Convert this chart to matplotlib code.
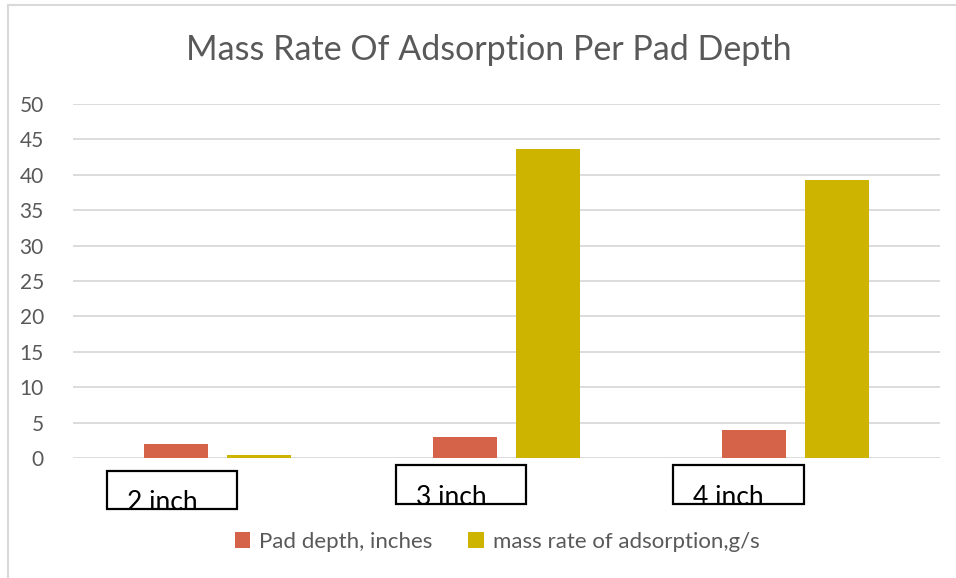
import numpy as np
import matplotlib
matplotlib.use("Agg")
import matplotlib.pyplot as plt
from matplotlib.patches import Rectangle
from matplotlib.lines import Line2D

categories = ["2 inch", "3 inch", "4 inch"]
pad_depth = [2, 3, 4]
mass_rate = [0.45, 43.6, 39.3]
series_names = ["Pad depth, inches", "mass rate of adsorption,g/s"]
y_ticks = list(range(0, 55, 5))

ORANGE = "#D5634A"
YELLOW = "#CCB400"
GREY = "#595959"
GRID = "#D9D9D9"

plt.rcParams["font.family"] = ["Lato", "DejaVu Sans"]

W, H = 956, 578
fig = plt.figure(figsize=(W / 100, H / 100), dpi=100)
fig.patch.set_facecolor("white")

def px(x0, y0, w, h):
    # pixel box (top-left origin) -> figure fraction
    return [x0 / W, 1 - (y0 + h) / H, w / W, h / H]

ax = fig.add_axes(px(73, 104, 867, 354))

x = np.arange(len(categories))
bw = 0.222
ax.bar(x - 0.143, pad_depth, bw, color=ORANGE, zorder=3, label=series_names[0])
ax.bar(x + 0.143, mass_rate, bw, color=YELLOW, zorder=3, label=series_names[1])

ax.set_xlim(-0.5, 2.5)
ax.set_ylim(0, 50)
ax.set_yticks(y_ticks)
ax.set_xticks([])
ax.yaxis.grid(True, color=GRID, linewidth=1.3, zorder=0)
for s in ax.spines.values():
    s.set_visible(False)
ax.tick_params(axis="y", length=0, pad=21, labelsize=15, labelcolor=GREY)

fig.text(489 / W, 1 - 50 / H, "Mass Rate Of Adsorption Per Pad Depth",
         ha="center", va="center", fontsize=24.5, color=GREY)

leg = fig.legend(loc="center", bbox_to_anchor=(497 / W, 1 - 542 / H), ncol=2,
                 frameon=False, fontsize=16, handlelength=0.7, handleheight=0.7,
                 handletextpad=0.4, columnspacing=1.6)
for t in leg.get_texts():
    t.set_color(GREY)

# outer chart frame (left and top edges only)
fig.add_artist(Line2D([8 / W, 8 / W], [0, 1 - 5 / H], color=GRID, lw=1.5))
fig.add_artist(Line2D([8 / W, 1], [1 - 5 / H, 1 - 5 / H], color=GRID, lw=1.5))

# text boxes standing in for the category labels
boxes = [(107, 471, 130, 38), (396, 465, 130, 39), (673, 465, 131, 39)]
for label, (bx, by, bwid, bh) in zip(categories, boxes):
    r = Rectangle((bx / W, 1 - (by + bh) / H), bwid / W, bh / H,
                  transform=fig.transFigure, facecolor="white",
                  edgecolor="black", lw=1.6, zorder=5)
    fig.add_artist(r)
    t = fig.text((bx + 20) / W, 1 - (by + bh + 1) / H, label, ha="left",
                 va="baseline", fontsize=19, color="black", zorder=6)
    t.set_clip_path(r)

fig.savefig("out.png", dpi=100)
